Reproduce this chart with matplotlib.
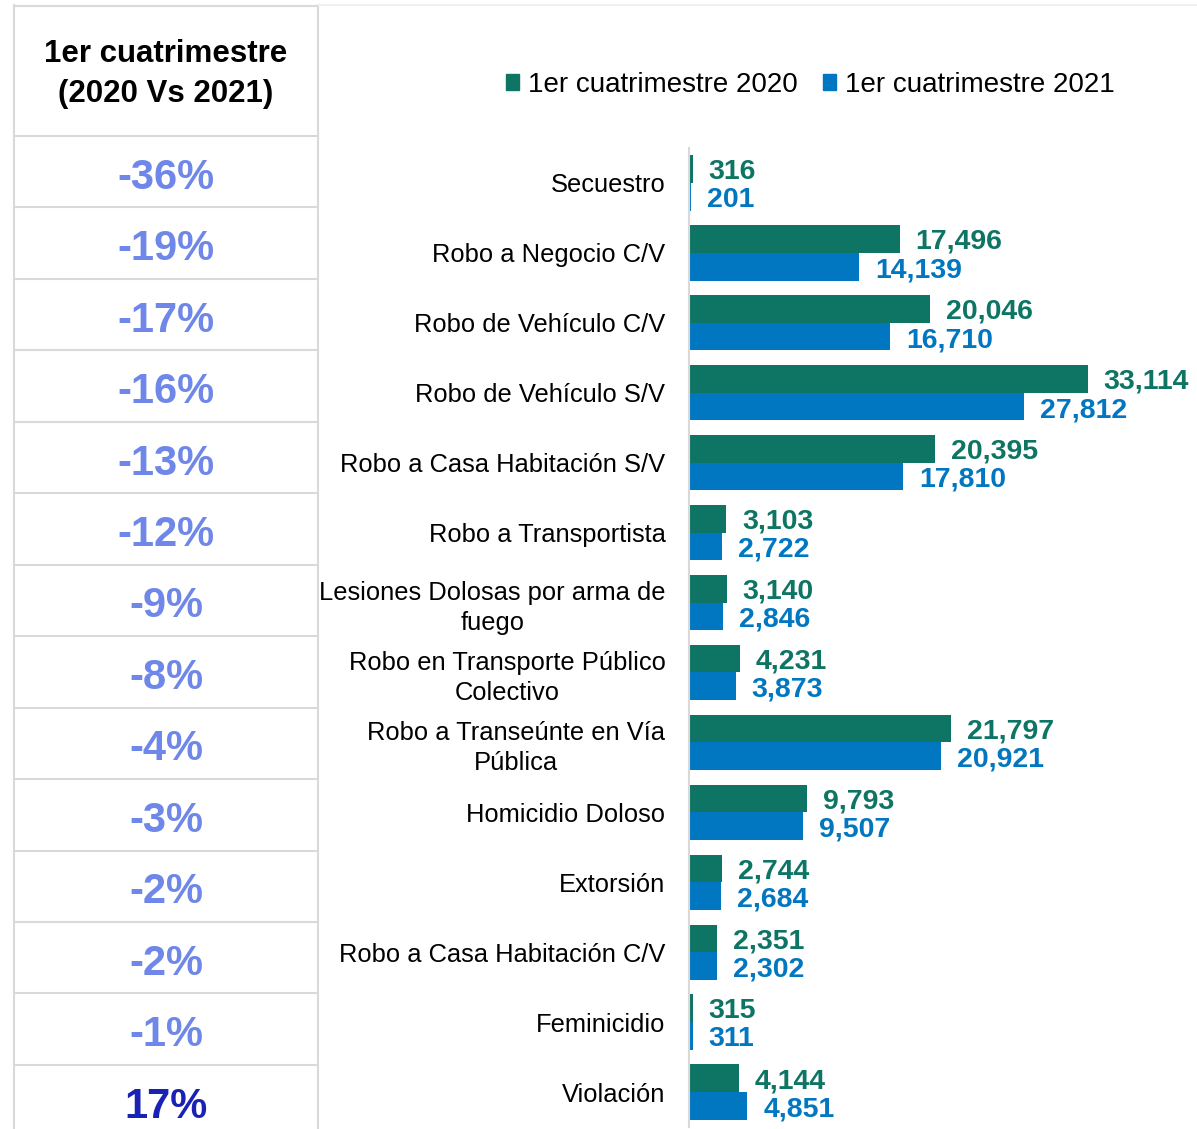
import matplotlib.pyplot as plt
from matplotlib.patches import Patch

plt.rcParams['font.family'] = ['Liberation Sans', 'DejaVu Sans']

# data
categories = ["Secuestro", "Robo a Negocio C/V", "Robo de Vehículo C/V",
              "Robo de Vehículo S/V", "Robo a Casa Habitación S/V",
              "Robo a Transportista", "Lesiones Dolosas por arma de\nfuego",
              "Robo en Transporte Público\nColectivo",
              "Robo a Transeúnte en Vía\nPública", "Homicidio Doloso",
              "Extorsión", "Robo a Casa Habitación C/V", "Feminicidio",
              "Violación"]
v2020 = [316, 17496, 20046, 33114, 20395, 3103, 3140, 4231, 21797, 9793,
         2744, 2351, 315, 4144]
v2021 = [201, 14139, 16710, 27812, 17810, 2722, 2846, 3873, 20921, 9507,
         2684, 2302, 311, 4851]
pct_labels = ["-36%", "-19%", "-17%", "-16%", "-13%", "-12%", "-9%", "-8%",
              "-4%", "-3%", "-2%", "-2%", "-1%", "17%"]
series = ["1er cuatrimestre 2020", "1er cuatrimestre 2021"]

green = "#0E7564"
blue = "#0077C0"
light = "#6F87E8"
dark = "#1A22B5"
grid = "#D9D9D9"

W, H = 1197, 1129
fig = plt.figure(figsize=(W / 100, H / 100), dpi=100)

# left table, drawn in pixel coords
tb = fig.add_axes([0, 0, 1, 1])
tb.set_xlim(0, W)
tb.set_ylim(H, 0)
tb.axis('off')
tb.plot([14, 14], [5, H], color=grid, lw=1.5)
tb.plot([318, 318], [5, H], color=grid, lw=1.5)
tb.plot([14, 318], [6, 6], color=grid, lw=1.5)
tb.plot([318, W], [5, 5], color="#EEEEEE", lw=1.2)
tb.text(166, 74, "1er cuatrimestre\n(2020 Vs 2021)", ha='center', va='center',
        fontsize=22.5, fontweight='bold', linespacing=1.4)
row0, pitch = 136, 71.45
for i, lab in enumerate(pct_labels):
    top = row0 + i * pitch
    tb.plot([14, 318], [top, top], color=grid, lw=1.5)
    col = dark if not lab.startswith('-') else light
    tb.text(166, top + pitch / 2 + 6, lab, ha='center', va='center',
            fontsize=30, fontweight='bold', color=col)

# bar chart
ax = fig.add_axes([689 / W, 2 / H, (W - 689) / W, (1127 - 148) / H])
y = list(range(len(categories)))
h = 0.395
ax.barh([i - h / 2 for i in y], v2020, height=h, color=green)
ax.barh([i + h / 2 for i in y], v2021, height=h, color=blue)
ax.set_ylim(len(categories) - 0.5, -0.5)
ax.set_xlim(0, (W - 689) / 0.01204)

for i in y:
    ax.annotate(f"{v2020[i]:,}", (v2020[i], i - h / 2), xytext=(11.5, -2),
                textcoords='offset points', va='center', ha='left',
                fontsize=20.5, fontweight='bold', color=green)
    ax.annotate(f"{v2021[i]:,}", (v2021[i], i + h / 2), xytext=(11.5, -2.5),
                textcoords='offset points', va='center', ha='left',
                fontsize=20.5, fontweight='bold', color=blue)

ax.set_yticks(y, categories)
ax.tick_params(axis='y', length=0, pad=17, labelsize=18.4)
for t in ax.get_yticklabels():
    t.set_multialignment('center')
    t.set_linespacing(1.3)
ax.set_xticks([])
for s in ['top', 'right', 'bottom']:
    ax.spines[s].set_visible(False)
ax.spines['left'].set_color(grid)
ax.spines['left'].set_linewidth(1.5)

handles = [Patch(color=green), Patch(color=blue)]
fig.legend(handles, series, loc='center', bbox_to_anchor=(810 / W, 1 - 85 / H),
           ncol=2, frameon=False, fontsize=20, handlelength=0.5,
           handleheight=0.5, handletextpad=0.3, columnspacing=0.9)

fig.savefig("out.png", dpi=100)
